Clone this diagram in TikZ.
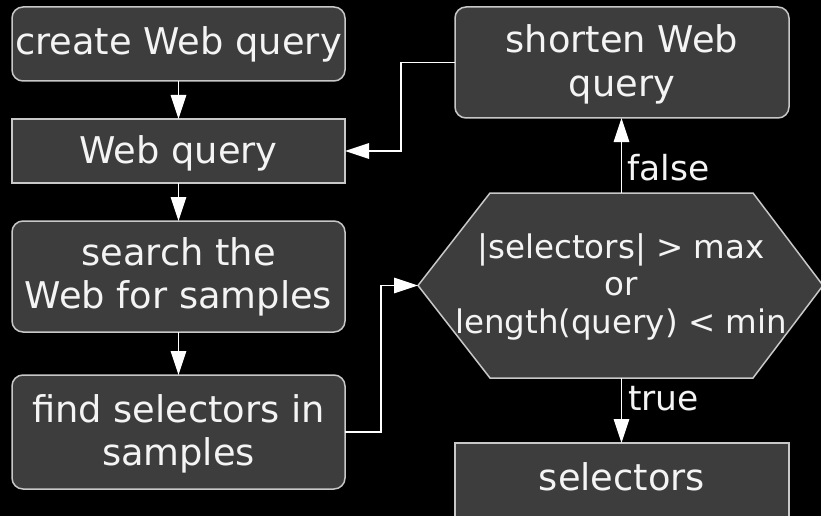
\documentclass[tikz,border=0pt]{standalone}
\usepackage{fontspec}
\setmainfont{DejaVu Sans}
\usetikzlibrary{arrows.meta}
\definecolor{boxfill}{HTML}{3D3D3D}
\definecolor{boxline}{HTML}{C8C8C8}
\definecolor{inktext}{HTML}{F4F4F4}

\newcommand{\lines}[1]{\begin{tabular}[t]{@{}c@{}}#1\end{tabular}}

\begin{document}
\begin{tikzpicture}[x=1pt,y=-1pt,
  roundbox/.style={draw=boxline, line width=1.5pt, fill=boxfill,
    rounded corners=11pt, inner sep=0pt, outer sep=0pt},
  plainbox/.style={draw=boxline, line width=1.5pt, fill=boxfill,
    inner sep=0pt, outer sep=0pt},
  txt/.style={text=inktext, inner sep=0pt, anchor=base,
    font=\fontsize{36.8}{43.5}\selectfont},
  condtxt/.style={text=inktext, inner sep=0pt, anchor=base,
    font=\fontsize{32.5}{37.5}\selectfont},
  lbl/.style={text=inktext, inner sep=0pt, anchor=base west,
    font=\fontsize{34.5}{40}\selectfont},
  flow/.style={draw=white, line width=1.7pt,
    -{Triangle[length=24pt,width=15.5pt]}},
]
% background and page size
\fill[black] (0,0) rectangle (821,516);
\useasboundingbox (0,0) rectangle (821,516);

% process boxes
\node[roundbox, minimum width=333pt, minimum height=74pt]  (create) at (178.5,44)    {};
\node[plainbox, minimum width=333pt, minimum height=64pt]  (wq)     at (178.5,151)   {};
\node[roundbox, minimum width=333pt, minimum height=111pt] (search) at (178.5,276.5) {};
\node[roundbox, minimum width=333pt, minimum height=114pt] (find)   at (178.5,432)   {};
\node[roundbox, minimum width=334pt, minimum height=111pt] (short)  at (622,62.5)    {};
\node[plainbox, minimum width=334pt, minimum height=90pt]  (sel)    at (622,488)     {};

% decision hexagon
\node[minimum width=405pt, minimum height=185pt, inner sep=0pt, outer sep=0pt]
  (test) at (620.5,285.5) {};
\draw[draw=boxline, line width=1.5pt, fill=boxfill]
  (test.west) -- ([xshift=72pt]test.north west) -- ([xshift=-70pt]test.north east)
  -- (test.east) -- ([xshift=-70pt]test.south east) -- ([xshift=72pt]test.south west)
  -- cycle;

% texts
\node[txt] (tcreate) at (178.5,55)  {\lines{create Web query}};
\node[txt] (twq)     at (178.5,163) {\lines{Web query}};
\node[txt] (tsearch) at (178.5,265) {\lines{search the\\Web for samples}};
\node[txt] (tfind)   at (178.5,422) {\lines{find selectors in\\samples}};
\node[txt] (tshort)  at (622,53)    {\lines{shorten Web\\query}};
\node[txt] (tsel)    at (622,490)   {\lines{selectors}};
\node[condtxt] (ttest) at (621,258)
  {\lines{|selectors| > max\\or\\length(query) < min}};

% connectors
\draw[flow] (create) -- (wq);
\draw[flow] (wq) -- (search);
\draw[flow] (search) -- (find);
\draw[flow] (find.east) -- ++(36pt,0) |- (test.west);
\draw[flow] ([xshift=1pt]test.north) -- ([xshift=1pt]test.north |- short.south);
\draw[flow] ([xshift=1pt]test.south) -- ([xshift=1pt]test.south |- sel.north);
\draw[flow] (short.west) -- ++(-54pt,0) |- (wq.east);

% branch labels
\node[lbl] (lfalse) at (627,180) {false};
\node[lbl] (ltrue)  at (628,410) {true};
\end{tikzpicture}
\end{document}
